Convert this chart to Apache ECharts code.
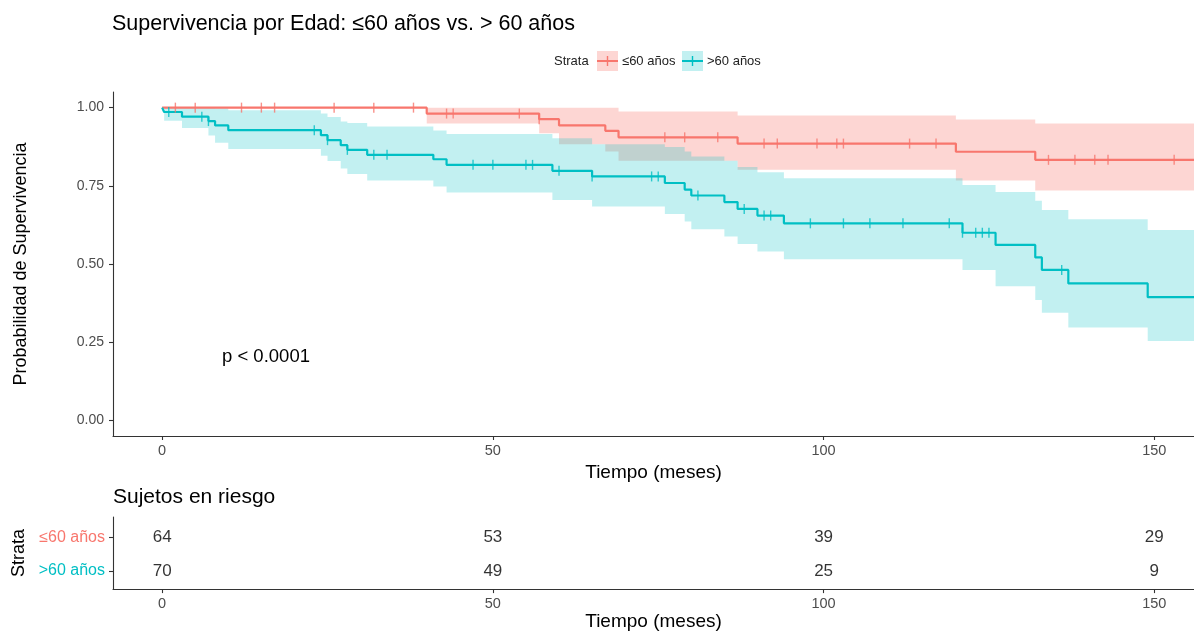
<!DOCTYPE html>
<html><head><meta charset="utf-8">
<script src="https://cdn.jsdelivr.net/npm/echarts@6/dist/echarts.min.js"></script>
<style>html,body{margin:0;padding:0;background:#fff}#c{width:1194px;height:632px}</style>
</head><body><div id="c"></div>
<script>
// ---------- data ----------
const strata = ['≤60 años', '>60 años'];
const xTicks = [0, 50, 100, 150];
const yTicks = [0, 0.25, 0.5, 0.75, 1];
const xMin = -7.43, xEnd = 156;

const lowTimes = [0, 40, 57, 60, 67, 69, 87, 120, 132];
const lowSurv  = [1, 0.981, 0.963, 0.943, 0.926, 0.905, 0.885, 0.859, 0.833];
const lowUpper = [1, 1, 1, 1, 1, 0.988, 0.975, 0.962, 0.949];
const lowLower = [1, 0.949, 0.918, 0.883, 0.860, 0.830, 0.801, 0.767, 0.735];
const lowCensor = [2, 5, 12, 15, 17, 26, 32, 38, 43, 44, 54, 57, 76, 79, 84, 91, 93, 99, 102, 103, 113, 117, 134, 138, 141, 143, 153];

const highTimes = [0, 0.3, 3, 7, 8, 10, 24, 25, 27, 28, 31, 41, 43, 59, 65, 76, 79, 80, 85, 87, 90, 94, 121, 126, 132, 133, 137, 149];
const highSurv  = [1, 0.986, 0.971, 0.957, 0.943, 0.928, 0.912, 0.896, 0.880, 0.865, 0.849, 0.835, 0.817, 0.798, 0.780, 0.759, 0.738, 0.719, 0.698, 0.676, 0.655, 0.630, 0.600, 0.561, 0.521, 0.481, 0.438, 0.394];
const highUpper = [1, 1, 1, 1, 0.998, 0.992, 0.981, 0.970, 0.956, 0.951, 0.940, 0.927, 0.916, 0.902, 0.883, 0.874, 0.860, 0.844, 0.830, 0.810, 0.793, 0.774, 0.753, 0.730, 0.702, 0.673, 0.643, 0.609];
const highLower = [1, 0.958, 0.935, 0.911, 0.888, 0.868, 0.846, 0.829, 0.805, 0.788, 0.767, 0.748, 0.729, 0.705, 0.684, 0.660, 0.636, 0.611, 0.588, 0.564, 0.540, 0.515, 0.481, 0.429, 0.385, 0.344, 0.297, 0.254];
const highCensor = [1, 6, 7, 23, 25, 28, 32, 34, 47, 50, 55, 56, 60, 65, 74, 75, 81, 88, 91, 92, 98, 103, 107, 112, 119, 121, 123, 124, 125, 136];

const riskTimes = [0, 50, 100, 150];
const riskLow  = [64, 53, 39, 29];
const riskHigh = [70, 49, 25, 9];

// ---------- styling ----------
const RED = '#F8766D', TEAL = '#00BFC4';
const RED_FILL = 'rgba(248,118,109,0.3)', TEAL_FILL = 'rgba(0,191,196,0.24)';
const FONT = 'Liberation Sans, Arial, sans-serif';

function survAt(T, S, t) { let v = S[0]; for (let i = 0; i < T.length; i++) if (T[i] <= t) v = S[i]; return v; }

function bandSeries(T, lo, hi, fill, startIdx) {
  return {
    type: 'custom', xAxisIndex: 0, yAxisIndex: 0, silent: true, z: 1, clip: true,
    data: [[T[startIdx], lo[startIdx]]], encode: { x: 0, y: 1 },
    renderItem(params, api) {
      const pts = [];
      for (let i = startIdx; i < T.length; i++) {
        const t1 = i + 1 < T.length ? T[i + 1] : xEnd;
        pts.push(api.coord([T[i], hi[i]]), api.coord([t1, hi[i]]));
      }
      for (let i = T.length - 1; i >= startIdx; i--) {
        const t1 = i + 1 < T.length ? T[i + 1] : xEnd;
        pts.push(api.coord([t1, lo[i]]), api.coord([T[i], lo[i]]));
      }
      return { type: 'polygon', shape: { points: pts }, style: { fill: fill, stroke: null } };
    }
  };
}
function lineSeries(T, S, color) {
  return {
    type: 'line', step: 'end', xAxisIndex: 0, yAxisIndex: 0, z: 3, showSymbol: false, silent: true,
    data: T.map((t, i) => [t, S[i]]).concat([[xEnd, S[S.length - 1]]]),
    lineStyle: { color: color, width: 2.2 }, itemStyle: { color: color }
  };
}
function censorSeries(T, S, C, color) {
  return {
    type: 'scatter', xAxisIndex: 0, yAxisIndex: 0, z: 4, silent: true,
    symbol: 'rect', symbolSize: [1.4, 10],
    data: C.map(t => [t, survAt(T, S, t)]),
    itemStyle: { color: color }
  };
}
function riskSeries(row, counts) {
  return {
    type: 'scatter', xAxisIndex: 1, yAxisIndex: 1, symbolSize: 0, silent: true,
    data: riskTimes.map((t, i) => [t, row, counts[i]]),
    label: { show: true, position: 'inside', formatter: p => String(p.value[2]), fontSize: 17, color: '#000', fontFamily: FONT }
  };
}

const axisLine = { show: true, onZero: false, lineStyle: { color: '#333', width: 1.1 } };
const tick = vals => ({ show: true, customValues: vals, length: 4, lineStyle: { color: '#333', width: 1.1 } });

const chart = echarts.init(document.getElementById('c'), null, { renderer: 'canvas' });
chart.setOption({
  animation: false,
  backgroundColor: '#fff',
  title: [
    { text: 'Supervivencia por Edad: ≤60 años vs. > 60 años', left: 112, top: 13, padding: 0,
      textStyle: { fontSize: 21.5, fontWeight: 'normal', color: '#000', fontFamily: FONT } },
    { text: 'Sujetos en riesgo', left: 113, top: 487, padding: 0,
      textStyle: { fontSize: 21, fontWeight: 'normal', color: '#000', fontFamily: FONT } }
  ],
  grid: [
    { left: 113, right: 0, top: 92, height: 344 },
    { left: 113, right: 0, top: 517, height: 76 }
  ],
  xAxis: [
    { type: 'value', gridIndex: 0, min: xMin, max: xEnd, splitLine: { show: false },
      axisLine, axisTick: tick(xTicks),
      axisLabel: { customValues: xTicks, fontSize: 14.5, color: '#4d4d4d', margin: 7, fontFamily: FONT },
      name: 'Tiempo (meses)', nameLocation: 'middle', nameGap: 16,
      nameTextStyle: { fontSize: 19, color: '#000', fontFamily: FONT } },
    { type: 'value', gridIndex: 1, min: xMin, max: xEnd, splitLine: { show: false },
      axisLine, axisTick: tick(xTicks),
      axisLabel: { customValues: xTicks, fontSize: 14.5, color: '#4d4d4d', margin: 7, fontFamily: FONT },
      name: 'Tiempo (meses)', nameLocation: 'middle', nameGap: 20,
      nameTextStyle: { fontSize: 19, color: '#000', fontFamily: FONT } }
  ],
  yAxis: [
    { type: 'value', gridIndex: 0, min: -0.05, max: 1.05, splitLine: { show: false },
      axisLine, axisTick: tick(yTicks),
      axisLabel: { customValues: yTicks, formatter: v => v.toFixed(2), fontSize: 14, color: '#4d4d4d', margin: 9, fontFamily: FONT },
      name: 'Probabilidad de Supervivencia', nameLocation: 'middle', nameGap: 83, nameRotate: 90,
      nameTextStyle: { fontSize: 18, color: '#000', fontFamily: FONT } },
    { type: 'value', gridIndex: 1, min: 0.45, max: 2.62, splitLine: { show: false },
      axisLine, axisTick: tick([1, 2]),
      axisLabel: { customValues: [1, 2], margin: 8,
        formatter: v => v === 2 ? '{a|' + strata[0] + '}' : '{b|' + strata[1] + '}',
        rich: { a: { color: RED, fontSize: 16, fontFamily: FONT }, b: { color: TEAL, fontSize: 16, fontFamily: FONT } } },
      name: 'Strata', nameLocation: 'middle', nameGap: 82, nameRotate: 90,
      nameTextStyle: { fontSize: 18, color: '#000', fontFamily: FONT } }
  ],
  graphic: [
    { type: 'text', left: 222, top: 347, style: { text: 'p < 0.0001', fontSize: 18.5, fill: '#000', fontFamily: FONT } },
    { type: 'text', x: 554, y: 61, style: { text: 'Strata', fontSize: 13, fill: '#222', verticalAlign: 'middle', fontFamily: FONT } },
    { type: 'rect', shape: { x: 597, y: 51, width: 21, height: 20 }, style: { fill: RED_FILL } },
    { type: 'line', shape: { x1: 597, y1: 61, x2: 618, y2: 61 }, style: { stroke: RED, lineWidth: 2 } },
    { type: 'line', shape: { x1: 607.5, y1: 56, x2: 607.5, y2: 66 }, style: { stroke: RED, lineWidth: 1.4 } },
    { type: 'text', x: 622, y: 61, style: { text: strata[0], fontSize: 13, fill: '#222', verticalAlign: 'middle', fontFamily: FONT } },
    { type: 'rect', shape: { x: 682, y: 51, width: 21, height: 20 }, style: { fill: TEAL_FILL } },
    { type: 'line', shape: { x1: 682, y1: 61, x2: 703, y2: 61 }, style: { stroke: TEAL, lineWidth: 2 } },
    { type: 'line', shape: { x1: 692.5, y1: 56, x2: 692.5, y2: 66 }, style: { stroke: TEAL, lineWidth: 1.4 } },
    { type: 'text', x: 707, y: 61, style: { text: strata[1], fontSize: 13, fill: '#222', verticalAlign: 'middle', fontFamily: FONT } }
  ],
  series: [
    bandSeries(lowTimes, lowLower, lowUpper, RED_FILL, 1),
    bandSeries(highTimes, highLower, highUpper, TEAL_FILL, 1),
    lineSeries(lowTimes, lowSurv, RED),
    lineSeries(highTimes, highSurv, TEAL),
    censorSeries(lowTimes, lowSurv, lowCensor, RED),
    censorSeries(highTimes, highSurv, highCensor, TEAL),
    riskSeries(2, riskLow),
    riskSeries(1, riskHigh)
  ]
});
</script>
</body></html>
